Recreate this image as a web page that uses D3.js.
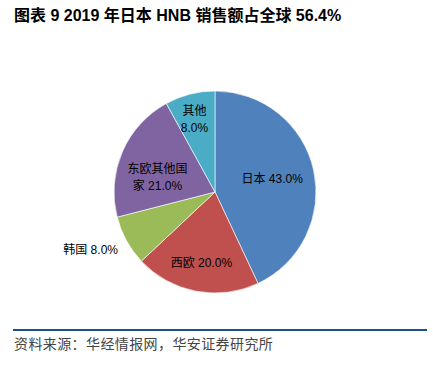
<!DOCTYPE html>
<html>
<head>
<meta charset="utf-8">
<script src="https://cdn.jsdelivr.net/npm/d3@7"></script>
<style>
  body { margin: 0; background: #fff; }
  svg { display: block; }
</style>
</head>
<body>
<div id="chart"></div>
<script>
// 数据
const regions = ['日本', '西欧', '韩国', '东欧其他国家', '其他'];
const shares = [43.0, 20.0, 8.0, 21.0, 8.0];
const colors = ['#4F81BD', '#C0504D', '#9BBB59', '#8064A2', '#4BACC6'];
// 标签文字（按切片顺序）
const labelLines = [
  ['日本 43.0%'],
  ['西欧 20.0%'],
  ['韩国 8.0%'],
  ['东欧其他国', '家 21.0%'],
  ['其他', '8.0%']
];

const title = '图表 9 2019 年日本 HNB 销售额占全球 56.4%';
const source = '资料来源：华经情报网，华安证券研究所';

const w = 433, h = 366;
const cx = 215, cy = 192, r = 101;

const svg = d3.select('#chart')
  .append('svg')
  .attr('width', w)
  .attr('height', h);

svg.append('text')
  .attr('x', 14)
  .attr('y', 21)
  .attr('font-family', '"Liberation Sans", "Noto Sans CJK SC", sans-serif')
  .attr('font-weight', 'bold')
  .attr('font-size', 16)
  .attr('fill', '#000')
  .text(title);

const data = regions.map((name, i) => ({ name, value: shares[i], lines: labelLines[i] }));

const pie = d3.pie().sort(null).value(d => d.value);
const arc = d3.arc().innerRadius(0).outerRadius(r);

const g = svg.append('g').attr('transform', `translate(${cx},${cy})`);
const arcs = pie(data);

g.selectAll('path.slice')
  .data(arcs)
  .enter()
  .append('path')
  .attr('class', 'slice')
  .attr('d', arc)
  .attr('fill', (_, i) => colors[i])
  .attr('stroke', '#fff')
  .attr('stroke-width', 0.6);

// 标签半径比例和微调，韩国放在外侧
const labelR = [0.58, 0.72, 1.36, 0.6, 0.74];
const nudge = [[0, 0], [0, 0], [-4, -8], [-2, 10], [-2, 0]];
const labelPos = (d, i) => {
  const a = (d.startAngle + d.endAngle) / 2;
  const rr = r * labelR[i];
  return [Math.sin(a) * rr + nudge[i][0], -Math.cos(a) * rr + nudge[i][1]];
};

const lbl = g.selectAll('text.lbl')
  .data(arcs)
  .enter()
  .append('text')
  .attr('class', 'lbl')
  .attr('font-family', '"Liberation Sans", "Noto Sans CJK SC", sans-serif')
  .attr('font-size', 12)
  .attr('fill', '#000')
  .attr('text-anchor', 'middle')
  .attr('transform', (d, i) => {
    const p = labelPos(d, i);
    return `translate(${p[0]},${p[1]})`;
  });

lbl.each(function (d) {
  const lines = d.data.lines;
  const t = d3.select(this);
  lines.forEach((s, j) => {
    t.append('tspan')
      .attr('x', 0)
      .attr('y', (j - (lines.length - 1) / 2) * 17 + 4)
      .text(s);
  });
});

svg.append('line')
  .attr('x1', 13)
  .attr('x2', 427)
  .attr('y1', 330)
  .attr('y2', 330)
  .attr('stroke', '#1F4E8C')
  .attr('stroke-width', 2);

svg.append('text')
  .attr('x', 14)
  .attr('y', 349)
  .attr('font-family', '"Noto Sans CJK SC", sans-serif')
  .attr('font-size', 14)
  .attr('letter-spacing', 0.4)
  .attr('fill', '#444')
  .text(source);
</script>
</body>
</html>
